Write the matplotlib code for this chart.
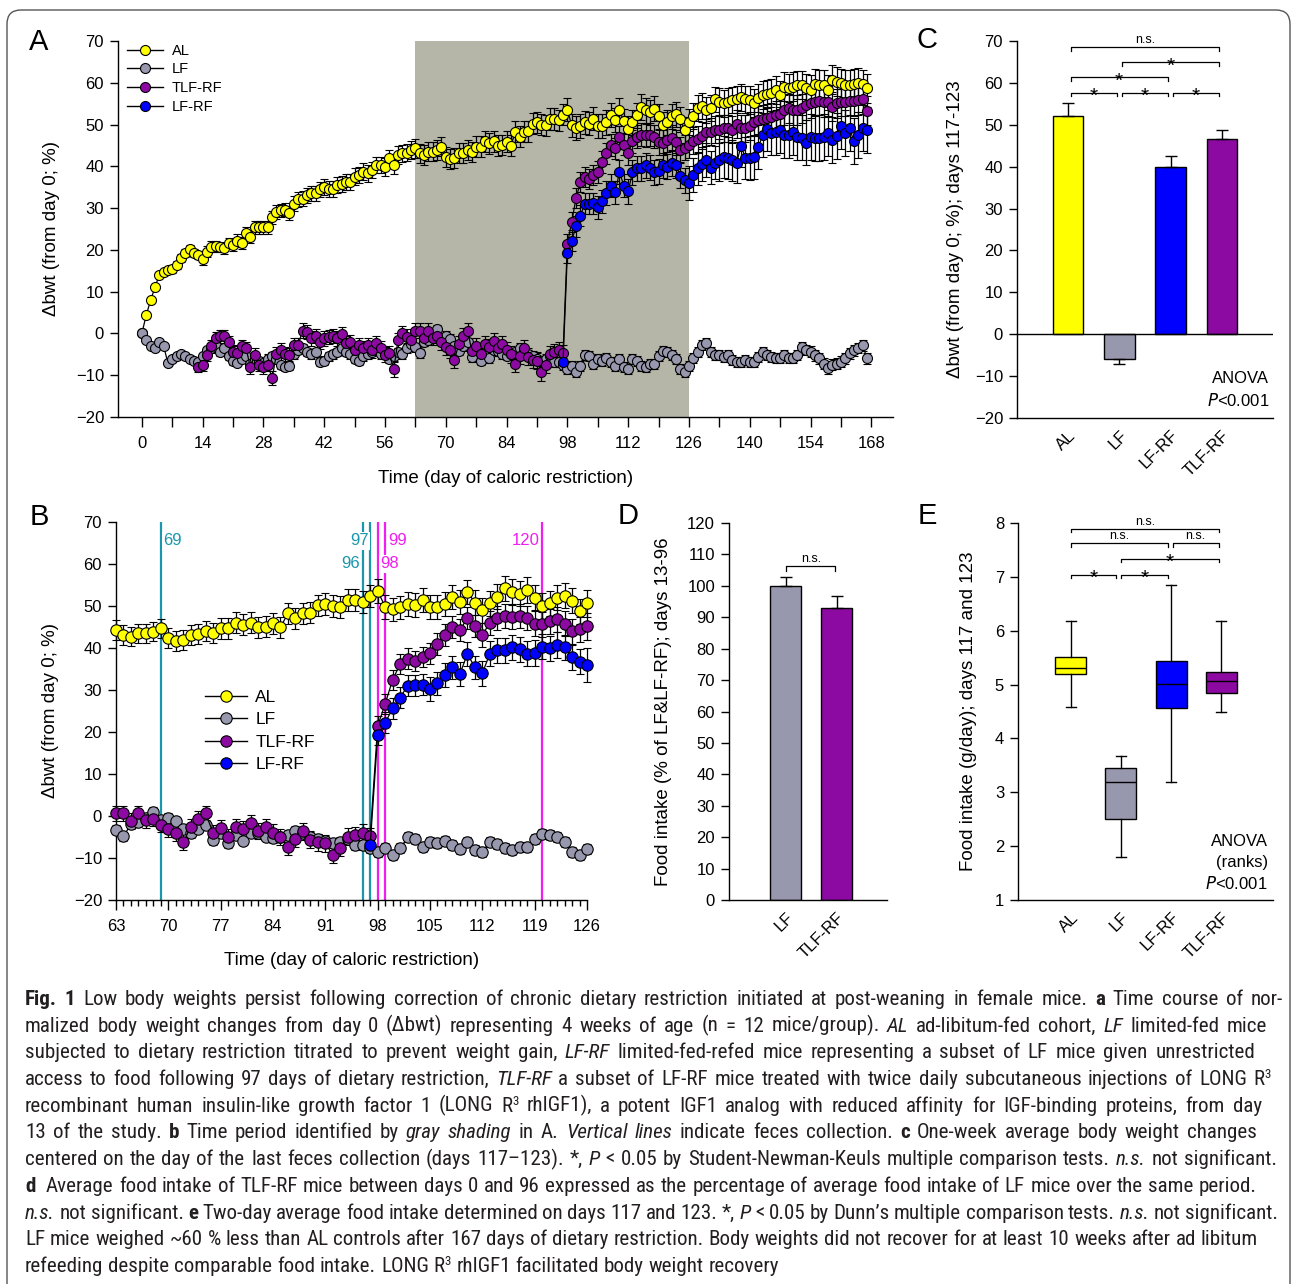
import numpy as np
import matplotlib
matplotlib.use("Agg")
import matplotlib.pyplot as plt
from matplotlib import font_manager
from matplotlib.lines import Line2D
from matplotlib.patches import FancyBboxPatch
from matplotlib.ticker import MultipleLocator, FixedLocator

plt.rcParams['font.family'] = ['Liberation Sans', 'DejaVu Sans']
plt.rcParams['axes.linewidth'] = 1.0

# ---------------- data ----------------
groups = ["AL", "LF", "TLF-RF", "LF-RF"]
colors = {"AL": "#ffff00", "LF": "#9797ad", "TLF-RF": "#8c0aa2", "LF-RF": "#0000ff"}

# daily body weight change (%), day 0 .. 167
al_bwt = [0.0, 4.4, 7.9, 11.0, 14.0, 14.6, 15.2, 15.4, 16.4, 18.0,
          19.3, 20.1, 19.3, 18.8, 17.7, 19.6, 20.8, 20.9, 20.7, 20.4,
          21.6, 21.2, 22.2, 21.6, 24.0, 23.1, 25.4, 25.4, 25.4, 25.4,
          27.8, 29.1, 29.5, 29.6, 28.8, 31.1, 32.1, 32.3, 33.1, 33.6,
          33.6, 34.5, 35.1, 34.5, 34.5, 35.5, 35.7, 36.3, 36.3, 37.5,
          37.9, 38.7, 38.3, 39.1, 40.3, 40.3, 39.9, 41.9, 40.3, 42.7,
          43.1, 43.3, 43.9, 44.3, 43.1, 42.7, 43.5, 43.5, 43.9, 44.7,
          42.3, 41.7, 42.0, 43.1, 43.3, 44.0, 43.5, 44.7, 44.7, 46.0,
          45.5, 46.0, 44.9, 45.1, 45.9, 44.9, 48.3, 47.1, 48.3, 48.4,
          50.2, 50.5, 50.0, 49.8, 51.4, 51.4, 51.0, 52.4, 53.6, 49.8,
          49.2, 49.7, 50.5, 50.2, 51.4, 49.7, 49.7, 50.5, 52.2, 51.0,
          53.4, 50.8, 49.0, 50.6, 52.2, 54.2, 53.4, 52.9, 53.8, 52.0,
          50.0, 50.6, 52.0, 52.5, 51.3, 48.7, 50.6, 52.0, 53.9, 54.4,
          53.5, 53.9, 56.0, 55.5, 55.1, 55.5, 55.9, 56.0, 56.5, 56.0,
          55.9, 55.1, 56.3, 57.1, 57.3, 57.6, 58.3, 57.1, 59.1, 58.7,
          59.1, 59.5, 59.5, 58.7, 58.3, 59.7, 59.5, 59.5, 58.3, 60.7,
          60.3, 59.9, 59.5, 59.5, 59.7, 60.0, 59.6, 58.7]
lf_bwt = [0.0, -1.5, -3.1, -3.5, -2.0, -3.0, -7.1, -6.0, -5.3, -4.9,
          -5.5, -6.0, -6.7, -6.8, -5.5, -4.0, -3.6, -3.0, -4.5, -3.5,
          -5.5, -6.6, -7.0, -6.0, -5.5, -7.3, -6.0, -6.5, -7.0, -6.0,
          -5.5, -6.0, -7.5, -8.0, -7.8, -5.0, -4.0, -3.5, -4.4, -5.0,
          -4.5, -6.8, -6.5, -5.5, -5.0, -4.5, -3.5, -4.5, -5.0, -6.0,
          -6.5, -5.5, -5.0, -4.5, -4.0, -5.0, -4.5, -6.0, -5.5, -4.5,
          -5.0, -3.5, -2.5, -3.3, -4.8, -2.0, -1.5, -0.5, 1.0, -1.0,
          -0.5, -1.3, -3.0, -4.1, -3.0, -2.1, -5.7, -4.0, -6.5, -4.5,
          -5.9, -4.0, -4.1, -4.9, -5.3, -5.0, -4.5, -3.5, -4.1, -5.0,
          -5.5, -6.0, -6.5, -6.1, -5.5, -6.9, -6.9, -7.5, -8.5, -7.7,
          -9.3, -7.7, -5.1, -5.5, -7.4, -6.1, -6.5, -5.9, -6.9, -7.9,
          -6.1, -8.1, -8.5, -6.1, -6.7, -7.7, -8.1, -7.3, -7.3, -5.5,
          -4.3, -4.5, -5.1, -6.1, -8.5, -9.3, -7.9, -5.9, -4.4, -2.8,
          -2.4, -4.4, -5.2, -5.2, -5.6, -5.2, -6.4, -6.8, -6.8, -6.4,
          -6.8, -6.8, -5.6, -4.4, -5.2, -5.6, -5.9, -5.9, -5.2, -5.9,
          -5.9, -5.2, -3.2, -4.0, -4.4, -5.2, -5.9, -7.2, -8.3, -7.5,
          -7.2, -6.8, -5.9, -4.8, -4.0, -3.5, -2.8, -5.9]
# TLF-RF from day 13
tlf_start = 13
tlf_bwt = [-8.1, -7.5, -5.1, -3.1, -1.2, -0.7, -0.7,
           -2.0, -4.4, -4.6, -3.1, -3.6, -8.1, -5.1, -7.5, -8.0, -7.5,
           -10.7, -4.9, -4.0, -4.9, -5.1, -2.8, -2.8, 0.7, 0.3, -1.2,
           -0.7, -2.0, -1.2, -0.8, -0.7, -1.2, -0.2, -2.4, -2.0, -4.0,
           -2.8, -3.6, -2.8, -4.0, -2.4, -3.6, -5.1, -4.8, -8.6, -1.6,
           0.0, -0.8, -1.6, 0.6, 0.6, -1.1, 0.6, -1.0, -0.6, -2.1,
           -3.2, -4.0, -6.3, -2.5, -0.6, 0.6, -4.1, -2.9, -5.0, -2.5,
           -3.2, -1.7, -3.6, -2.5, -4.0, -5.0, -7.3, -5.4, -3.6, -5.6,
           -6.3, -6.5, -9.3, -7.5, -4.9, -4.5, -4.0, -4.8, 21.4, 26.7,
           32.4, 36.2, 37.5, 37.0, 37.9, 38.7, 41.0, 43.1, 45.1, 44.3,
           47.1, 45.2, 43.1, 46.0, 47.1, 47.6, 47.4, 47.6, 47.1, 45.8,
           45.6, 46.4, 46.8, 45.8, 44.0, 44.5, 45.2, 46.1, 46.5, 47.3,
           48.1, 48.3, 48.8, 48.8, 49.1, 49.1, 48.8, 50.1, 49.1, 49.1,
           49.6, 50.7, 51.1, 51.3, 51.5, 51.7, 52.3, 52.5, 53.5, 53.9,
           53.5, 53.5, 53.9, 54.7, 55.1, 55.5, 55.7, 55.3, 55.5, 54.3,
           55.1, 55.5, 55.5, 55.7, 55.6, 55.8, 56.0, 53.3]
# LF-RF from day 97
lfrf_start = 97
lfrf_bwt = [-6.9, 19.3, 22.2,
            25.6, 28.2, 31.0, 31.1, 31.2, 30.2, 31.6, 33.6, 35.4, 33.8,
            38.6, 35.4, 34.0, 38.6, 39.5, 39.5, 40.2, 39.7, 38.6, 38.8,
            40.3, 39.9, 40.7, 40.2, 37.8, 36.7, 36.0, 37.9, 39.5, 40.6,
            41.5, 39.7, 40.9, 41.5, 42.2, 42.0, 41.4, 40.9, 44.9, 42.0,
            42.0, 42.3, 44.6, 47.5, 48.9, 47.9, 48.1, 48.7, 47.5, 47.5,
            48.3, 47.1, 46.9, 45.7, 47.1, 46.7, 46.7, 47.1, 47.9, 46.3,
            47.3, 49.7, 47.9, 49.1, 46.0, 47.5, 49.1, 48.7]

# SEM per week (week 0 = days 0-6, ... week 23 = days 161-167)
al_sem_wk = [0.6, 1.0, 1.3, 1.5, 1.6, 1.8, 1.9, 2.0, 2.1, 2.3, 2.4, 2.5,
             2.5, 2.6, 2.8, 2.9, 3.0, 3.0, 3.1, 3.2, 3.3, 3.4, 3.5, 3.5]
lf_sem_wk = [0.4, 0.7, 0.8, 0.9, 1.0, 1.0, 1.0, 1.0, 1.1, 1.1, 1.1, 1.1,
             1.1, 1.2, 1.2, 1.2, 1.2, 1.2, 1.2, 1.2, 1.2, 1.2, 1.3, 1.3]
tlf_sem_wk = [1.2, 1.2, 1.5, 1.6, 1.6, 1.7, 1.7, 1.8, 1.8, 1.8, 1.9, 1.9,
              2.0, 2.0, 2.4, 2.6, 2.8, 3.0, 3.2, 3.3, 3.4, 3.5, 3.5, 3.5]
lfrf_sem_wk = [1.0, 1.0, 1.0, 1.0, 1.0, 1.0, 1.0, 1.0, 1.0, 1.0, 1.0, 1.0,
               1.0, 1.0, 2.5, 2.8, 3.0, 3.0, 4.0, 5.0, 5.3, 5.5, 5.5, 5.5]

# collection days (panel B)
feces_cyan = [69, 96, 97]
feces_magenta = [98, 99, 120]

# panel C: mean +- SEM, days 117-123
c_groups = ["AL", "LF", "LF-RF", "TLF-RF"]
c_mean = [52.2, -5.9, 39.9, 46.5]
c_sem = [2.9, 1.1, 2.6, 2.2]

# panel D: food intake (% of LF&LF-RF), days 13-96
d_groups = ["LF", "TLF-RF"]
d_mean = [100.0, 92.8]
d_sem = [2.7, 4.1]

# panel E: food intake (g/day) box stats
e_groups = ["AL", "LF", "LF-RF", "TLF-RF"]
e_whislo = [4.58, 1.79, 3.19, 4.50]
e_q1 = [5.20, 2.50, 4.57, 4.84]
e_med = [5.30, 3.19, 5.01, 5.06]
e_q3 = [5.51, 3.45, 5.44, 5.24]
e_whishi = [6.18, 3.67, 6.85, 6.18]

# ---------------- figure ----------------
W, H = 1293, 1284
fig = plt.figure(figsize=(W / 100, H / 100), dpi=100)


def px_axes(l, t, r, b):
    return fig.add_axes([l / W, 1 - b / H, (r - l) / W, (b - t) / H])


def clean(ax):
    ax.spines['top'].set_visible(False)
    ax.spines['right'].set_visible(False)
    ax.tick_params(direction='out', width=1, labelsize=12, length=6, pad=4)


def series_list():
    d_al = np.arange(len(al_bwt))
    d_lf = np.arange(len(lf_bwt))
    d_tlf = np.arange(tlf_start, tlf_start + len(tlf_bwt))
    d_rf = np.arange(lfrf_start, lfrf_start + len(lfrf_bwt))
    wk = lambda d: d // 7
    return [
        ("AL", d_al, np.array(al_bwt), np.array(al_sem_wk)[wk(d_al)]),
        ("LF", d_lf, np.array(lf_bwt), np.array(lf_sem_wk)[wk(d_lf)]),
        ("TLF-RF", d_tlf, np.array(tlf_bwt), np.array(tlf_sem_wk)[wk(d_tlf)]),
        ("LF-RF", d_rf, np.array(lfrf_bwt), np.array(lfrf_sem_wk)[wk(d_rf)]),
    ]


def draw_series(ax, lo, hi, ms, cap, clip):
    for name, d, v, s in series_list():
        m = (d >= lo) & (d <= hi)
        ax.errorbar(d[m], v[m], yerr=s[m], fmt='-o', color='black', lw=0.9,
                    mfc=colors[name], mec='black', mew=0.8, ms=ms,
                    elinewidth=0.9, capsize=cap, capthick=0.9, clip_on=clip,
                    zorder=3)


def legend_handles(ms):
    return [Line2D([], [], color='black', lw=1, marker='o', ms=ms,
                   mfc=colors[g], mec='black', mew=0.8) for g in groups]


# ---- panel A ----
axA = px_axes(118, 41, 893, 417)
clean(axA)
axA.axvspan(63, 126, color='#b5b6a8', lw=0, zorder=0)
draw_series(axA, 0, 167, 7.2, 2.8, True)
axA.set_xlim(-5.5, 173)
axA.set_ylim(-20, 70)
axA.xaxis.set_major_locator(FixedLocator(np.arange(0, 169, 14)))
axA.xaxis.set_minor_locator(MultipleLocator(7))
axA.yaxis.set_major_locator(MultipleLocator(10))
axA.tick_params(axis='x', which='both', length=7, width=1, pad=7)
axA.set_xlabel("Time (day of caloric restriction)", fontsize=13.5)
axA.set_ylabel("\u0394bwt (from day 0; %)", fontsize=13.5)
axA.xaxis.set_label_coords(0.5, -0.14)
axA.yaxis.set_label_coords(-0.075, 0.5)
axA.legend(legend_handles(7.2), groups, loc='upper left',
           bbox_to_anchor=(0.011, 0.993), frameon=False, fontsize=10.5,
           handlelength=2.5, handletextpad=0.6, labelspacing=0.33,
           borderpad=0, borderaxespad=0)

# ---- panel B ----
axB = px_axes(116, 522, 587, 900)
clean(axB)
for dd in feces_cyan:
    axB.axvline(dd, color='#1a97ad', lw=1.6, zorder=1)
for dd in feces_magenta:
    axB.axvline(dd, color='#f01ef0', lw=1.6, zorder=1)
draw_series(axB, 63, 126, 8.2, 3.2, False)
axB.set_xlim(63, 126)
axB.set_ylim(-20, 70)
axB.xaxis.set_major_locator(FixedLocator(np.arange(63, 127, 7)))
axB.xaxis.set_minor_locator(MultipleLocator(1))
axB.yaxis.set_major_locator(MultipleLocator(10))
axB.tick_params(axis='x', which='major', length=7, pad=7)
axB.tick_params(axis='x', which='minor', length=4, width=1)
axB.set_xlabel("Time (day of caloric restriction)", fontsize=13.5)
axB.set_ylabel("\u0394bwt (from day 0; %)", fontsize=13.5)
axB.xaxis.set_label_coords(0.5, -0.138)
axB.yaxis.set_label_coords(-0.121, 0.5)
lab_kw = dict(fontsize=12, va='center', zorder=2,
              bbox=dict(facecolor='white', edgecolor='none', pad=1.0))
axB.text(69.3, 65.5, "69", color='#1a97ad', ha='left', **lab_kw)
axB.text(96.8, 65.5, "97", color='#1a97ad', ha='right', **lab_kw)
axB.text(95.6, 60.0, "96", color='#1a97ad', ha='right', **lab_kw)
axB.text(99.4, 65.5, "99", color='#f01ef0', ha='left', **lab_kw)
axB.text(98.4, 60.0, "98", color='#f01ef0', ha='left', **lab_kw)
axB.text(119.6, 65.5, "120", color='#f01ef0', ha='right', **lab_kw)
axB.legend(legend_handles(8.2), groups, loc='upper left',
           bbox_to_anchor=(0.189, 0.556), frameon=False, fontsize=12.5,
           handlelength=2.4, handletextpad=0.5, labelspacing=0.42,
           borderpad=0, borderaxespad=0)


def bracket(ax, x1, x2, y, tick, label):
    ax.plot([x1, x1, x2, x2], [y - tick, y, y, y - tick], color='black',
            lw=0.9, clip_on=False)
    xm = (x1 + x2) / 2
    if label == '*':
        ax.annotate('*', (xm, y), xytext=(0, -6.5), textcoords='offset points',
                    ha='center', va='baseline', fontsize=15)
    else:
        ax.annotate(label, (xm, y), xytext=(0, 0.8), textcoords='offset points',
                    ha='center', va='bottom', fontsize=9)


def bar_panel(ax, names, means, sems, width):
    xs = np.arange(len(names))
    ax.bar(xs, means, width=width, color=[colors[n] for n in names],
           edgecolor='black', linewidth=1, zorder=2)
    lower = [s if m < 0 else 0 for m, s in zip(means, sems)]
    upper = [0 if m < 0 else s for m, s in zip(means, sems)]
    ax.errorbar(xs, means, yerr=[lower, upper], fmt='none', ecolor='black',
                elinewidth=1, capsize=4, capthick=1, zorder=3)
    ax.set_xticks(xs)
    ax.set_xticklabels(names, rotation=45, ha='right', rotation_mode='anchor')
    ax.tick_params(axis='x', length=0, pad=7)


# ---- panel C ----
axC = px_axes(1017, 41, 1273, 418)
clean(axC)
bar_panel(axC, c_groups, c_mean, c_sem, 0.59)
axC.axhline(0, color='black', lw=1, zorder=4)
axC.set_xlim(-1.0, 4.0)
axC.set_ylim(-20, 70)
axC.yaxis.set_major_locator(MultipleLocator(10))
axC.set_ylabel("\u0394bwt (from day 0; %); days 117-123", fontsize=13.5)
axC.yaxis.set_label_coords(-0.207, 0.5)
for x1, x2, y, lab in [(0.05, 2.94, 68.5, 'n.s.'), (1.05, 2.94, 64.9, '*'),
                       (0.05, 1.94, 61.3, '*'), (0.05, 0.95, 57.7, '*'),
                       (1.05, 1.94, 57.7, '*'), (2.05, 2.94, 57.7, '*')]:
    bracket(axC, x1, x2, y, 0.8, lab)
axC.text(0.985, 0.105, "ANOVA", transform=axC.transAxes, ha='right',
         va='center', fontsize=12)
axC.text(0.985, 0.047, "$\\it{P}$<0.001", transform=axC.transAxes,
         ha='right', va='center', fontsize=12)

# ---- panel D ----
axD = px_axes(729, 523, 887, 900)
clean(axD)
bar_panel(axD, d_groups, d_mean, d_sem, 0.61)
axD.set_xlim(-1.12, 1.99)
axD.set_ylim(0, 120)
axD.yaxis.set_major_locator(MultipleLocator(10))
axD.set_ylabel("Food intake (% of LF&LF-RF); days 13-96", fontsize=13.5)
axD.yaxis.set_label_coords(-0.36, 0.5)
bracket(axD, 0.01, 0.97, 106.3, 1.5, 'n.s.')

# ---- panel E ----
axE = px_axes(1018, 523, 1273, 900)
clean(axE)
stats = [dict(med=m, q1=a, q3=b, whislo=lo, whishi=hi, fliers=[])
         for lo, a, m, b, hi in zip(e_whislo, e_q1, e_med, e_q3, e_whishi)]
bp = axE.bxp(stats, positions=np.arange(4), widths=0.62, patch_artist=True,
             showfliers=False, capwidths=0.2,
             boxprops=dict(edgecolor='black', linewidth=1),
             medianprops=dict(color='black', linewidth=1),
             whiskerprops=dict(color='black', linewidth=1),
             capprops=dict(color='black', linewidth=1))
for patch, g in zip(bp['boxes'], e_groups):
    patch.set_facecolor(colors[g])
axE.set_xlim(-1.05, 4.03)
axE.set_ylim(1, 8)
axE.set_xticks(np.arange(4))
axE.set_xticklabels(e_groups, rotation=45, ha='right', rotation_mode='anchor')
axE.tick_params(axis='x', length=0, pad=7)
axE.set_ylabel("Food intake (g/day); days 117 and 123", fontsize=13.5)
axE.yaxis.set_label_coords(-0.161, 0.5)
for x1, x2, y, lab in [(0.0, 2.95, 7.89, 'n.s.'), (0.0, 1.94, 7.62, 'n.s.'),
                       (2.03, 2.95, 7.62, 'n.s.'), (1.01, 2.95, 7.33, '*'),
                       (0.0, 0.91, 7.04, '*'), (1.01, 1.94, 7.04, '*')]:
    bracket(axE, x1, x2, y, 0.06, lab)
axE.text(0.98, 0.155, "ANOVA", transform=axE.transAxes, ha='right',
         va='center', fontsize=12)
axE.text(0.98, 0.1, "(ranks)", transform=axE.transAxes, ha='right',
         va='center', fontsize=12)
axE.text(0.98, 0.045, "$\\it{P}$<0.001", transform=axE.transAxes,
         ha='right', va='center', fontsize=12)

# panel letters
for lab, x, y in [("A", 39, 42), ("B", 39, 517), ("C", 927, 40),
                  ("D", 628, 516), ("E", 927, 516)]:
    fig.text(x / W, 1 - y / H, lab, fontsize=21, ha='center', va='center')

# border
fig.add_artist(FancyBboxPatch((7, H - 1330), 1283, 1320,
                              boxstyle='round,pad=0,rounding_size=14',
                              transform=None, fill=False, ec='#555555',
                              lw=1.0))

# ---------------- caption ----------------
cap_lines = [
    [("Fig. 1", 'b'), (" Low body weights persist following correction of chronic dietary restriction initiated at post-weaning in female mice. ", 'n'), ("a", 'b'), (" Time course of nor-", 'n')],
    [("malized body weight changes from day 0 (\u0394bwt) representing 4 weeks of age (n = 12 mice/group). ", 'n'), ("AL", 'i'), (" ad-libitum-fed cohort, ", 'n'), ("LF", 'i'), (" limited-fed mice", 'n')],
    [("subjected to dietary restriction titrated to prevent weight gain, ", 'n'), ("LF-RF", 'i'), (" limited-fed-refed mice representing a subset of LF mice given unrestricted", 'n')],
    [("access to food following 97 days of dietary restriction, ", 'n'), ("TLF-RF", 'i'), (" a subset of LF-RF mice treated with twice daily subcutaneous injections of LONG R", 'n'), ("3", 's')],
    [("recombinant human insulin-like growth factor 1 (LONG R", 'n'), ("3", 's'), (" rhIGF1), a potent IGF1 analog with reduced affinity for IGF-binding proteins, from day", 'n')],
    [("13 of the study. ", 'n'), ("b", 'b'), (" Time period identified by ", 'n'), ("gray shading", 'i'), (" in A. ", 'n'), ("Vertical lines", 'i'), (" indicate feces collection. ", 'n'), ("c", 'b'), (" One-week average body weight changes", 'n')],
    [("centered on the day of the last feces collection (days 117\u2013123). *, ", 'n'), ("P", 'i'), (" < 0.05 by Student-Newman-Keuls multiple comparison tests. ", 'n'), ("n.s.", 'i'), (" not significant.", 'n')],
    [("d", 'b'), ("  Average food intake of TLF-RF mice between days 0 and 96 expressed as the percentage of average food intake of LF mice over the same period.", 'n')],
    [("n.s.", 'i'), (" not significant. ", 'n'), ("e", 'b'), (" Two-day average food intake determined on days 117 and 123. *, ", 'n'), ("P", 'i'), (" < 0.05 by Dunn\u2019s multiple comparison tests. ", 'n'), ("n.s.", 'i'), (" not significant.", 'n')],
    [("LF mice weighed ~60 % less than AL controls after 167 days of dietary restriction. Body weights did not recover for at least 10 weeks after ad libitum", 'n')],
    [("refeeding despite comparable food intake. LONG R", 'n'), ("3", 's'), (" rhIGF1 facilitated body weight recovery", 'n')],
]
cap_right = [1283, 1267, 1255, 1271, 1262, 1257, 1277, 1257, 1278, 1258, None]
installed = {f.name for f in font_manager.fontManager.ttflist}
cap_font = [f for f in ['Liberation Sans Narrow', 'DejaVu Sans Condensed',
                        'Roboto Condensed', 'Liberation Sans'] if f in installed]
cap_font = cap_font or ['Liberation Sans']
cap_color = '#231f20'
cap_x0, cap_y0, cap_dy = 25, 1005, 26.7

renderer = fig.canvas.get_renderer()


def tokens(runs):
    out = []
    for text, sty in runs:
        parts = text.split(' ')
        for k, p in enumerate(parts):
            if k > 0:
                out.append(None)
            if p:
                out.append((p, sty))
    return out


def make_text(word, sty, size):
    kw = dict(fontsize=size, family=cap_font, color=cap_color, va='baseline')
    if sty == 'b':
        kw['fontweight'] = 'bold'
    elif sty == 'i':
        kw['fontstyle'] = 'italic'
    elif sty == 's':
        kw['fontsize'] = size * 0.62
    return fig.text(0, 0, word, **kw)


def measure(word, sty, size):
    t = make_text(word, sty, size)
    w = t.get_window_extent(renderer).width
    t.remove()
    return w


tok_lines = [tokens(r) for r in cap_lines]
size = 18.0
for _ in range(5):
    space = measure('a a', 'n', size) - measure('aa', 'n', size)
    ratio = 1.0
    for toks, right in zip(tok_lines, cap_right):
        if right is None:
            continue
        ww = sum(measure(t[0], t[1], size) for t in toks if t is not None)
        ns = sum(1 for t in toks if t is None)
        ratio = min(ratio, (right - cap_x0) / (ww + ns * space * 0.9))
    if ratio >= 1.0:
        break
    size *= ratio * 0.998

space = measure('a a', 'n', size) - measure('aa', 'n', size)
for i, (toks, right) in enumerate(zip(tok_lines, cap_right)):
    widths = [measure(t[0], t[1], size) if t is not None else 0 for t in toks]
    ns = sum(1 for t in toks if t is None)
    if right is not None and ns:
        gap = (right - cap_x0 - sum(widths)) / ns
    else:
        gap = space
    x = cap_x0
    yb = cap_y0 + i * cap_dy
    for t, w in zip(toks, widths):
        if t is None:
            x += gap
            continue
        txt = make_text(t[0], t[1], size)
        yy = yb - (size * 0.45 if t[1] == 's' else 0)
        txt.set_position((x / W, 1 - yy / H))
        x += w

fig.savefig("out.png", dpi=100)
